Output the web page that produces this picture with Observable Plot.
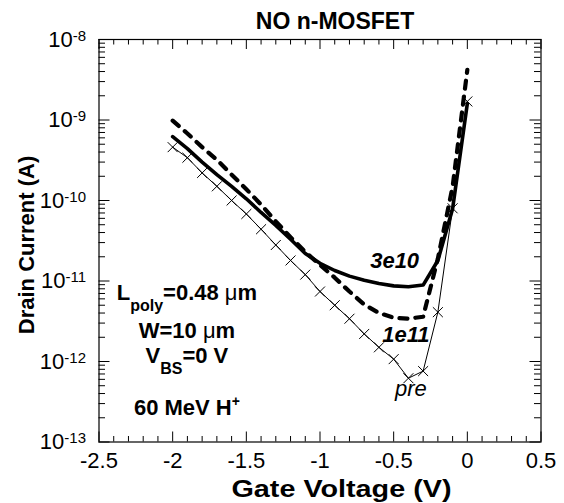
<!DOCTYPE html>
<html>
<head>
<meta charset="utf-8">
<script src="https://cdn.jsdelivr.net/npm/d3@7"></script>
<script src="https://cdn.jsdelivr.net/npm/@observablehq/plot@0.6"></script>
<style>
  body { margin: 0; background: #fff; }
  #chart svg { display: block; }
</style>
</head>
<body>
<div id="chart"></div>
<script>
// Gate sweep (V) and drain current (A) for each fluence
const gateVoltage = [-2.0, -1.9, -1.8, -1.7, -1.6, -1.5, -1.4, -1.3, -1.2, -1.1, -1.0,
                     -0.9, -0.8, -0.7, -0.6, -0.5, -0.4, -0.3, -0.2, -0.1, 0.0];
const currentPre  = [4.6e-10, 3.4e-10, 2.2e-10, 1.5e-10, 1.0e-10, 6.8e-11, 4.4e-11, 2.8e-11, 1.8e-11, 1.2e-11, 7.4e-12,
                     5.0e-12, 3.4e-12, 2.2e-12, 1.5e-12, 1.07e-12, 6.2e-13, 7.6e-13, 4.1e-12, 8.0e-11, 1.7e-9];
const current3e10 = [6.2e-10, 4.4e-10, 3.0e-10, 2.1e-10, 1.5e-10, 1.05e-10, 7.1e-11, 4.9e-11, 3.3e-11, 2.2e-11, 1.66e-11,
                     1.35e-11, 1.15e-11, 1.02e-11, 9.3e-12, 8.7e-12, 8.5e-12, 8.9e-12, 1.8e-11, 7.9e-11, 1.6e-9];
const current1e11 = [9.8e-10, 6.8e-10, 4.6e-10, 3.2e-10, 2.1e-10, 1.38e-10, 8.9e-11, 5.5e-11, 3.5e-11, 2.3e-11, 1.58e-11,
                     1.1e-11, 7.4e-12, 5.1e-12, 4.0e-12, 3.5e-12, 3.4e-12, 3.6e-12, 1.9e-11, 1.48e-10, 4.2e-9];

// Axis ticks
const xTicks = [-2.5, -2, -1.5, -1, -0.5, 0, 0.5];
const xTickLabels = ["-2.5", "-2", "-1.5", "-1", "-0.5", "0", "0.5"];
const yTicks = [1e-13, 1e-12, 1e-11, 1e-10, 1e-9, 1e-8];
const yTickExponents = ["-13", "-12", "-11", "-10", "-9", "-8"];

// Text
const titleText = "NO n-MOSFET";
const xTitle = "Gate Voltage (V)";
const yTitle = "Drain Current (A)";
const curveLabels = [
  {text: "3e10", x: -0.49, y: 1.43e-11, weight: "bold"},
  {text: "1e11", x: -0.414, y: 1.72e-12, weight: "bold"},
  {text: "pre",  x: -0.38, y: 3.67e-13, weight: "normal"}
];
const conditionLines = [
  {parts: [["L"], ["poly", "sub"], ["=0.48 "], ["\u03bc", "mu"], ["m"]], x: -1.9, y: 5.73e-12},
  {parts: [["W=10 "], ["\u03bc", "mu"], ["m"]], x: -1.9, y: 1.93e-12},
  {parts: [["V"], ["BS", "sub"], ["=0 V"]], x: -1.9, y: 9.4e-13},
  {parts: [["60 MeV H"], ["+", "sup"]], x: -1.9, y: 2.13e-13}
];

const FONT = "'Liberation Sans', Arial, Helvetica, sans-serif";
const width = 564, height = 503;
const marginLeft = 98.5, marginRight = 23.5, marginTop = 39, marginBottom = 61.5;
const innerW = width - marginLeft - marginRight;
const innerH = height - marginTop - marginBottom;

const toRows = (values) => gateVoltage.map((v, i) => ({v, i: values[i]}));
const rowsPre = toRows(currentPre);
const rows3e10 = toRows(current3e10);
const rows1e11 = toRows(current1e11);

// Minor ticks: every 0.1 V on x, 2..9 within each decade on y
const xMinor = d3.range(-25, 6).map(k => k / 10).filter(v => !xTicks.some(t => Math.abs(t - v) < 1e-9));
const yMinor = d3.range(-13, -8).flatMap(e => d3.range(2, 10).map(k => k * Math.pow(10, e)));

const majorLen = 10, minorLen = 5.5;

const chart = Plot.plot({
  width, height, marginLeft, marginRight, marginTop, marginBottom,
  style: {fontFamily: FONT, fontSize: "22px", color: "black", background: "white", overflow: "visible"},
  x: {domain: [-2.5, 0.5]},
  y: {type: "log", domain: [1e-13, 1e-8]},
  marks: [
    Plot.frame({stroke: "black", strokeWidth: 1.2}),
    // inward ticks on all four sides
    Plot.tickX(xTicks, {x: d => d, insetTop: innerH - majorLen, stroke: "black"}),
    Plot.tickX(xTicks, {x: d => d, insetBottom: innerH - majorLen, stroke: "black"}),
    Plot.tickX(xMinor, {x: d => d, insetTop: innerH - minorLen, stroke: "black"}),
    Plot.tickX(xMinor, {x: d => d, insetBottom: innerH - minorLen, stroke: "black"}),
    Plot.tickY(yTicks, {y: d => d, insetRight: innerW - majorLen - 1, stroke: "black"}),
    Plot.tickY(yTicks, {y: d => d, insetLeft: innerW - majorLen - 1, stroke: "black"}),
    Plot.tickY(yMinor, {y: d => d, insetRight: innerW - minorLen - 1, stroke: "black"}),
    Plot.tickY(yMinor, {y: d => d, insetLeft: innerW - minorLen - 1, stroke: "black"}),
    Plot.axisX({ticks: xTicks, tickSize: 0, tickPadding: 10, label: null,
                tickFormat: d => xTickLabels[xTicks.indexOf(d)], fontSize: 22}),
    Plot.axisY({ticks: yTicks, tickSize: 0, tickPadding: 13, label: null,
                tickFormat: d => "10^" + yTickExponents[yTicks.indexOf(d)], fontSize: 22}),
    // curves
    Plot.line(rows3e10, {x: "v", y: "i", stroke: "black", strokeWidth: 3.6}),
    Plot.line(rows1e11, {x: "v", y: "i", stroke: "black", strokeWidth: 4.2, strokeDasharray: "8,8"}),
    Plot.line(rowsPre, {x: "v", y: "i", stroke: "black", strokeWidth: 1}),
    Plot.dot(rowsPre, {x: "v", y: "i", symbol: "times", r: 4.6, stroke: "black", strokeWidth: 1})
  ]
});

const svg = d3.select(chart);
svg.attr("font-family", FONT);

// powers of ten as superscripts
svg.selectAll('[aria-label="y-axis tick label"] text').each(function () {
  const t = d3.select(this);
  const [base, exp] = t.text().split("^");
  t.text(null);
  t.append("tspan").text(base);
  t.append("tspan").attr("dy", -6).attr("font-size", 15).text(exp);
});

const xs = chart.scale("x"), ys = chart.scale("y");

// curve labels
curveLabels.forEach(d => {
  svg.append("text")
    .attr("x", xs.apply(d.x)).attr("y", ys.apply(d.y))
    .attr("text-anchor", "middle").attr("font-size", 22)
    .attr("font-style", "italic").attr("font-weight", d.weight)
    .text(d.text);
});

// device / irradiation conditions
conditionLines.forEach(line => {
  const t = svg.append("text")
    .attr("x", xs.apply(line.x)).attr("y", ys.apply(line.y))
    .attr("text-anchor", "middle").attr("font-size", 22).attr("font-weight", "bold");
  let shift = 0;
  line.parts.forEach(([s, kind]) => {
    const span = t.append("tspan").text(s);
    let target = 0;
    if (kind === "sub") { target = 11; span.attr("font-size", 16); }
    else if (kind === "sup") { target = -9; span.attr("font-size", 14); }
    else if (kind === "mu") { span.attr("font-weight", "normal"); }
    if (target !== shift) { span.attr("dy", target - shift); shift = target; }
  });
});

// title and axis titles
svg.append("text").attr("x", 335).attr("y", 29)
  .attr("text-anchor", "middle").attr("font-size", 23).attr("font-weight", "bold")
  .text(titleText);
svg.append("text").attr("x", 341.5).attr("y", 497)
  .attr("text-anchor", "middle").attr("font-size", 24).attr("font-weight", "bold")
  .attr("textLength", 220).attr("lengthAdjust", "spacingAndGlyphs")
  .text(xTitle);
svg.append("text").attr("transform", "translate(34,245) rotate(-90)")
  .attr("text-anchor", "middle").attr("font-size", 22).attr("font-weight", "bold")
  .text(yTitle);

document.getElementById("chart").append(chart);
</script>
</body>
</html>
